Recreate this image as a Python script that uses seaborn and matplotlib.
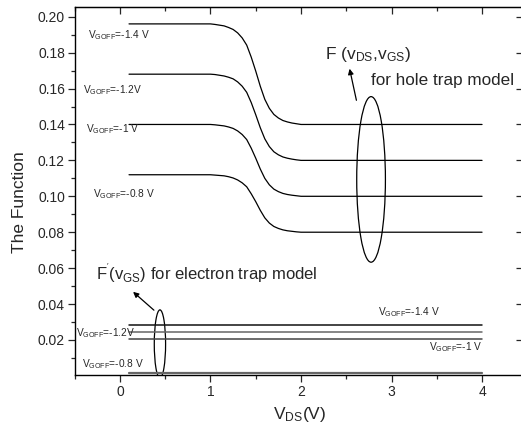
import numpy as np
import pandas as pd
import matplotlib
matplotlib.use("Agg")
import matplotlib.pyplot as plt
from matplotlib.patches import Ellipse
from matplotlib.ticker import MultipleLocator
import seaborn as sns

# hole trap model curves
vds = [0.1, 1.0, 1.05, 1.1, 1.15, 1.2, 1.25, 1.3, 1.35, 1.4, 1.45, 1.5, 1.55,
       1.6, 1.65, 1.7, 1.75, 1.8, 1.85, 1.9, 1.95, 2.0, 2.2, 4.0]
f_m14 = [0.1960, 0.1960, 0.1957, 0.1953, 0.1949, 0.1940, 0.1929, 0.1910, 0.1882,
         0.1842, 0.1775, 0.1697, 0.1613, 0.1540, 0.1490, 0.1456, 0.1436, 0.1422,
         0.1414, 0.1408, 0.1404, 0.1400, 0.1400, 0.1400]
f_m12 = [0.1680, 0.1680, 0.1678, 0.1674, 0.1670, 0.1663, 0.1654, 0.1637, 0.1613,
         0.1579, 0.1522, 0.1454, 0.1382, 0.1320, 0.1277, 0.1248, 0.1231, 0.1219,
         0.1212, 0.1207, 0.1203, 0.1200, 0.1200, 0.1200]
f_m10 = [0.1400, 0.1400, 0.1398, 0.1395, 0.1392, 0.1386, 0.1378, 0.1364, 0.1344,
         0.1316, 0.1268, 0.1212, 0.1152, 0.1100, 0.1064, 0.1040, 0.1026, 0.1016,
         0.1010, 0.1006, 0.1003, 0.1000, 0.1000, 0.1000]
f_m08 = [0.1120, 0.1120, 0.1118, 0.1116, 0.1114, 0.1109, 0.1102, 0.1091, 0.1075,
         0.1053, 0.1014, 0.0970, 0.0922, 0.0880, 0.0851, 0.0832, 0.0821, 0.0813,
         0.0808, 0.0805, 0.0802, 0.0800, 0.0800, 0.0800]

# electron trap model (flat in vDS)
vds_e = [0.1, 4.0]
fe_m14 = [0.0281, 0.0281]
fe_m12 = [0.0242, 0.0242]
fe_m10 = [0.0204, 0.0204]
fe_m08 = [0.0016, 0.0016]

sns.set_style("ticks")
plt.rcParams['font.family'] = ['Liberation Sans', 'DejaVu Sans']
plt.rcParams['mathtext.fontset'] = 'custom'
plt.rcParams['mathtext.rm'] = 'Liberation Sans'
plt.rcParams['mathtext.it'] = 'Liberation Sans'

fig = plt.figure(figsize=(5.21, 4.34), dpi=100)
ax = fig.add_axes([0.1434, 0.136, 0.8687, 0.847])

hole = pd.DataFrame({"vds": vds, "-1.4": f_m14, "-1.2": f_m12, "-1.0": f_m10, "-0.8": f_m08})
for col in ["-1.4", "-1.2", "-1.0", "-0.8"]:
    sns.lineplot(data=hole, x="vds", y=col, ax=ax, color="black", linewidth=0.9)

elec = pd.DataFrame({"vds": vds_e, "a": fe_m14, "b": fe_m12, "c": fe_m10, "d": fe_m08})
for col, c, lw in [("a", "#111111", 1.1), ("b", "#666666", 1.1),
                   ("c", "#444444", 1.1), ("d", "#666666", 1.6)]:
    sns.lineplot(data=elec, x="vds", y=col, ax=ax, color=c, linewidth=lw)

ax.set_xlim(-0.5, 4.5)
ax.set_ylim(0.0005, 0.2052)
ax.xaxis.set_major_locator(MultipleLocator(1))
ax.xaxis.set_minor_locator(MultipleLocator(0.5))
ax.yaxis.set_major_locator(MultipleLocator(0.02))
ax.yaxis.set_minor_locator(MultipleLocator(0.01))
ax.set_yticks([0.02, 0.04, 0.06, 0.08, 0.10, 0.12, 0.14, 0.16, 0.18, 0.20])
ax.set_yticklabels(["0.02", "0.04", "0.06", "0.08", "0.10", "0.12", "0.14", "0.16", "0.18", "0.20"])
ax.set_xticks([0, 1, 2, 3, 4])
ax.set_xticklabels(["0", "1", "2", "3", "4"])
ax.tick_params(which="both", direction="out", top=False, right=False, labelsize=10, width=0.9, pad=2)
ax.tick_params(which="major", length=5)
ax.tick_params(which="minor", length=3)
for sp in ax.spines.values():
    sp.set_visible(True)
    sp.set_linewidth(1.0)
    sp.set_color("black")

# inward ticks on top and right
top = ax.secondary_xaxis("top")
top.xaxis.set_major_locator(MultipleLocator(1))
top.xaxis.set_minor_locator(MultipleLocator(0.5))
top.tick_params(which="both", direction="in", labeltop=False, width=0.9)
top.tick_params(which="major", length=5)
top.tick_params(which="minor", length=3)
right = ax.secondary_yaxis("right")
right.yaxis.set_major_locator(MultipleLocator(0.02))
right.tick_params(which="both", direction="in", labelright=False, width=0.9, length=8)

ax.set_xlabel("")
ax.set_ylabel("")
fig.text(300 / 521, 1 - 415 / 434, r"$\mathregular{V_{DS}}$(V)", fontsize=12.5, ha="center", va="center")
fig.text(20 / 521, 1 - 202 / 434, "The Function", fontsize=12.5, rotation=90, ha="center", va="center")

small = 7.3
def goff(px, py, s):
    fig.text(px / 521, 1 - py / 434, r"$\mathregular{V_{GOFF}}$" + s, fontsize=small, ha="left", va="center")

goff(88, 35, "=-1.4 V")
goff(83, 90, "=-1.2V")
goff(86, 129, "=-1 V")
goff(93, 194, "=-0.8 V")
goff(76, 333, "=-1.2V")
goff(82, 364, "=-0.8 V")
goff(378, 312, "=-1.4 V")
goff(429, 347, "=-1 V")

fig.text(325 / 521, 1 - 55 / 434, r"F ($\mathregular{v_{DS}}$,$\mathregular{v_{GS}}$)", fontsize=12.5, ha="left", va="center")
fig.text(371 / 521, 1 - 80 / 434, "for hole trap model", fontsize=12.3, ha="left", va="center")
fig.text(96 / 521, 1 - 273 / 434, r"$\mathregular{F^{'}(v_{GS})}$ for electron trap model", fontsize=12, ha="left", va="center")

ax.add_patch(Ellipse((2.774, 0.1094), 0.317, 0.0922, fill=False, edgecolor="black", linewidth=0.9))
ax.add_patch(Ellipse((0.4415, 0.0178), 0.125, 0.0379, fill=False, edgecolor="black", linewidth=0.9))

ax.annotate("", xy=(349 / 521, 1 - 66 / 434), xycoords="figure fraction",
            xytext=(357 / 521, 1 - 103 / 434), textcoords="figure fraction",
            arrowprops=dict(arrowstyle="-|>", color="black", lw=0.9, mutation_scale=8))
ax.annotate("", xy=(131 / 521, 1 - 290 / 434), xycoords="figure fraction",
            xytext=(156 / 521, 1 - 312 / 434), textcoords="figure fraction",
            arrowprops=dict(arrowstyle="-|>", color="black", lw=0.9, mutation_scale=8))

fig.savefig("out.png", dpi=100)
